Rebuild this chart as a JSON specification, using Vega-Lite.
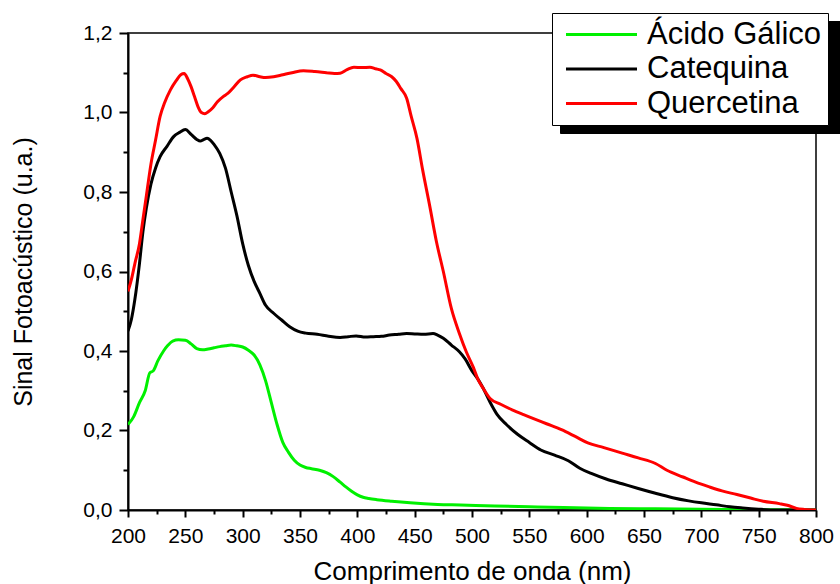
{
"$schema": "https://vega.github.io/schema/vega-lite/v6.json",
"width": 688, "height": 477,
"autosize": "none",
"padding": {"left": 128, "top": 33, "right": 24, "bottom": 74},
"background": "white",
"config": {"font": "Liberation Sans", "view": {"stroke": "#000", "strokeWidth": 1.5}},
"datasets": {"d": [
{"amostra":"Ácido Gálico","nm":200,"sinal":0.215},{"amostra":"Ácido Gálico","nm":205,"sinal":0.235},{"amostra":"Ácido Gálico","nm":210,"sinal":0.27},{"amostra":"Ácido Gálico","nm":215,"sinal":0.3},{"amostra":"Ácido Gálico","nm":219,"sinal":0.345},{"amostra":"Ácido Gálico","nm":222,"sinal":0.35},{"amostra":"Ácido Gálico","nm":226,"sinal":0.375},{"amostra":"Ácido Gálico","nm":231,"sinal":0.4},{"amostra":"Ácido Gálico","nm":235,"sinal":0.415},{"amostra":"Ácido Gálico","nm":239,"sinal":0.425},{"amostra":"Ácido Gálico","nm":244,"sinal":0.428},{"amostra":"Ácido Gálico","nm":250,"sinal":0.427},{"amostra":"Ácido Gálico","nm":255,"sinal":0.418},{"amostra":"Ácido Gálico","nm":260,"sinal":0.406},{"amostra":"Ácido Gálico","nm":265,"sinal":0.403},{"amostra":"Ácido Gálico","nm":270,"sinal":0.405},{"amostra":"Ácido Gálico","nm":275,"sinal":0.408},{"amostra":"Ácido Gálico","nm":280,"sinal":0.411},{"amostra":"Ácido Gálico","nm":285,"sinal":0.413},{"amostra":"Ácido Gálico","nm":290,"sinal":0.415},{"amostra":"Ácido Gálico","nm":295,"sinal":0.413},{"amostra":"Ácido Gálico","nm":300,"sinal":0.41},{"amostra":"Ácido Gálico","nm":305,"sinal":0.402},{"amostra":"Ácido Gálico","nm":310,"sinal":0.39},{"amostra":"Ácido Gálico","nm":315,"sinal":0.365},{"amostra":"Ácido Gálico","nm":320,"sinal":0.325},{"amostra":"Ácido Gálico","nm":325,"sinal":0.27},{"amostra":"Ácido Gálico","nm":330,"sinal":0.215},{"amostra":"Ácido Gálico","nm":335,"sinal":0.17},{"amostra":"Ácido Gálico","nm":340,"sinal":0.145},{"amostra":"Ácido Gálico","nm":345,"sinal":0.125},{"amostra":"Ácido Gálico","nm":350,"sinal":0.113},{"amostra":"Ácido Gálico","nm":355,"sinal":0.107},{"amostra":"Ácido Gálico","nm":360,"sinal":0.104},{"amostra":"Ácido Gálico","nm":367,"sinal":0.1},{"amostra":"Ácido Gálico","nm":373,"sinal":0.094},{"amostra":"Ácido Gálico","nm":379,"sinal":0.084},{"amostra":"Ácido Gálico","nm":385,"sinal":0.07},{"amostra":"Ácido Gálico","nm":390,"sinal":0.058},{"amostra":"Ácido Gálico","nm":395,"sinal":0.047},{"amostra":"Ácido Gálico","nm":400,"sinal":0.038},{"amostra":"Ácido Gálico","nm":405,"sinal":0.032},{"amostra":"Ácido Gálico","nm":410,"sinal":0.029},{"amostra":"Ácido Gálico","nm":417,"sinal":0.026},{"amostra":"Ácido Gálico","nm":430,"sinal":0.022},{"amostra":"Ácido Gálico","nm":446,"sinal":0.018},{"amostra":"Ácido Gálico","nm":470,"sinal":0.014},{"amostra":"Ácido Gálico","nm":490,"sinal":0.0126},{"amostra":"Ácido Gálico","nm":520,"sinal":0.01},{"amostra":"Ácido Gálico","nm":550,"sinal":0.008},{"amostra":"Ácido Gálico","nm":580,"sinal":0.006},{"amostra":"Ácido Gálico","nm":620,"sinal":0.004},{"amostra":"Ácido Gálico","nm":660,"sinal":0.003},{"amostra":"Ácido Gálico","nm":700,"sinal":0.002},{"amostra":"Ácido Gálico","nm":750,"sinal":0.001},{"amostra":"Ácido Gálico","nm":800,"sinal":0.0},
{"amostra":"Catequina","nm":200,"sinal":0.45},{"amostra":"Catequina","nm":203,"sinal":0.48},{"amostra":"Catequina","nm":206,"sinal":0.53},{"amostra":"Catequina","nm":210,"sinal":0.62},{"amostra":"Catequina","nm":213,"sinal":0.7},{"amostra":"Catequina","nm":216,"sinal":0.76},{"amostra":"Catequina","nm":220,"sinal":0.82},{"amostra":"Catequina","nm":224,"sinal":0.86},{"amostra":"Catequina","nm":228,"sinal":0.889},{"amostra":"Catequina","nm":234,"sinal":0.915},{"amostra":"Catequina","nm":240,"sinal":0.94},{"amostra":"Catequina","nm":245,"sinal":0.95},{"amostra":"Catequina","nm":250,"sinal":0.957},{"amostra":"Catequina","nm":255,"sinal":0.945},{"amostra":"Catequina","nm":260,"sinal":0.932},{"amostra":"Catequina","nm":263,"sinal":0.928},{"amostra":"Catequina","nm":266,"sinal":0.932},{"amostra":"Catequina","nm":269,"sinal":0.935},{"amostra":"Catequina","nm":272,"sinal":0.93},{"amostra":"Catequina","nm":275,"sinal":0.92},{"amostra":"Catequina","nm":280,"sinal":0.897},{"amostra":"Catequina","nm":285,"sinal":0.86},{"amostra":"Catequina","nm":290,"sinal":0.8},{"amostra":"Catequina","nm":295,"sinal":0.74},{"amostra":"Catequina","nm":300,"sinal":0.67},{"amostra":"Catequina","nm":305,"sinal":0.615},{"amostra":"Catequina","nm":310,"sinal":0.575},{"amostra":"Catequina","nm":315,"sinal":0.545},{"amostra":"Catequina","nm":320,"sinal":0.515},{"amostra":"Catequina","nm":327,"sinal":0.495},{"amostra":"Catequina","nm":334,"sinal":0.478},{"amostra":"Catequina","nm":341,"sinal":0.461},{"amostra":"Catequina","nm":348,"sinal":0.45},{"amostra":"Catequina","nm":355,"sinal":0.445},{"amostra":"Catequina","nm":365,"sinal":0.442},{"amostra":"Catequina","nm":375,"sinal":0.437},{"amostra":"Catequina","nm":385,"sinal":0.434},{"amostra":"Catequina","nm":392,"sinal":0.436},{"amostra":"Catequina","nm":399,"sinal":0.438},{"amostra":"Catequina","nm":407,"sinal":0.435},{"amostra":"Catequina","nm":414,"sinal":0.436},{"amostra":"Catequina","nm":421,"sinal":0.437},{"amostra":"Catequina","nm":428,"sinal":0.44},{"amostra":"Catequina","nm":436,"sinal":0.442},{"amostra":"Catequina","nm":443,"sinal":0.444},{"amostra":"Catequina","nm":450,"sinal":0.443},{"amostra":"Catequina","nm":458,"sinal":0.442},{"amostra":"Catequina","nm":466,"sinal":0.444},{"amostra":"Catequina","nm":470,"sinal":0.44},{"amostra":"Catequina","nm":475,"sinal":0.432},{"amostra":"Catequina","nm":482,"sinal":0.415},{"amostra":"Catequina","nm":489,"sinal":0.398},{"amostra":"Catequina","nm":494,"sinal":0.38},{"amostra":"Catequina","nm":500,"sinal":0.35},{"amostra":"Catequina","nm":505,"sinal":0.33},{"amostra":"Catequina","nm":510,"sinal":0.305},{"amostra":"Catequina","nm":516,"sinal":0.27},{"amostra":"Catequina","nm":522,"sinal":0.24},{"amostra":"Catequina","nm":530,"sinal":0.215},{"amostra":"Catequina","nm":540,"sinal":0.19},{"amostra":"Catequina","nm":550,"sinal":0.17},{"amostra":"Catequina","nm":560,"sinal":0.151},{"amostra":"Catequina","nm":572,"sinal":0.138},{"amostra":"Catequina","nm":584,"sinal":0.124},{"amostra":"Catequina","nm":594,"sinal":0.105},{"amostra":"Catequina","nm":604,"sinal":0.092},{"amostra":"Catequina","nm":617,"sinal":0.078},{"amostra":"Catequina","nm":631,"sinal":0.066},{"amostra":"Catequina","nm":645,"sinal":0.054},{"amostra":"Catequina","nm":660,"sinal":0.042},{"amostra":"Catequina","nm":675,"sinal":0.031},{"amostra":"Catequina","nm":689,"sinal":0.023},{"amostra":"Catequina","nm":700,"sinal":0.018},{"amostra":"Catequina","nm":713,"sinal":0.013},{"amostra":"Catequina","nm":725,"sinal":0.008},{"amostra":"Catequina","nm":736,"sinal":0.005},{"amostra":"Catequina","nm":750,"sinal":0.002},{"amostra":"Catequina","nm":766,"sinal":0.0},{"amostra":"Catequina","nm":780,"sinal":0.0},{"amostra":"Catequina","nm":800,"sinal":0.0},
{"amostra":"Quercetina","nm":200,"sinal":0.55},{"amostra":"Quercetina","nm":203,"sinal":0.58},{"amostra":"Quercetina","nm":206,"sinal":0.62},{"amostra":"Quercetina","nm":210,"sinal":0.67},{"amostra":"Quercetina","nm":213,"sinal":0.73},{"amostra":"Quercetina","nm":216,"sinal":0.79},{"amostra":"Quercetina","nm":220,"sinal":0.87},{"amostra":"Quercetina","nm":224,"sinal":0.93},{"amostra":"Quercetina","nm":228,"sinal":0.99},{"amostra":"Quercetina","nm":232,"sinal":1.025},{"amostra":"Quercetina","nm":237,"sinal":1.057},{"amostra":"Quercetina","nm":242,"sinal":1.08},{"amostra":"Quercetina","nm":246,"sinal":1.095},{"amostra":"Quercetina","nm":249,"sinal":1.098},{"amostra":"Quercetina","nm":252,"sinal":1.085},{"amostra":"Quercetina","nm":255,"sinal":1.065},{"amostra":"Quercetina","nm":258,"sinal":1.04},{"amostra":"Quercetina","nm":261,"sinal":1.015},{"amostra":"Quercetina","nm":264,"sinal":1.0},{"amostra":"Quercetina","nm":267,"sinal":0.997},{"amostra":"Quercetina","nm":270,"sinal":1.002},{"amostra":"Quercetina","nm":274,"sinal":1.012},{"amostra":"Quercetina","nm":278,"sinal":1.027},{"amostra":"Quercetina","nm":283,"sinal":1.04},{"amostra":"Quercetina","nm":287,"sinal":1.048},{"amostra":"Quercetina","nm":292,"sinal":1.063},{"amostra":"Quercetina","nm":298,"sinal":1.082},{"amostra":"Quercetina","nm":304,"sinal":1.09},{"amostra":"Quercetina","nm":309,"sinal":1.094},{"amostra":"Quercetina","nm":315,"sinal":1.09},{"amostra":"Quercetina","nm":320,"sinal":1.088},{"amostra":"Quercetina","nm":327,"sinal":1.09},{"amostra":"Quercetina","nm":335,"sinal":1.095},{"amostra":"Quercetina","nm":343,"sinal":1.1},{"amostra":"Quercetina","nm":353,"sinal":1.105},{"amostra":"Quercetina","nm":363,"sinal":1.103},{"amostra":"Quercetina","nm":373,"sinal":1.1},{"amostra":"Quercetina","nm":380,"sinal":1.098},{"amostra":"Quercetina","nm":385,"sinal":1.099},{"amostra":"Quercetina","nm":391,"sinal":1.108},{"amostra":"Quercetina","nm":397,"sinal":1.114},{"amostra":"Quercetina","nm":404,"sinal":1.113},{"amostra":"Quercetina","nm":411,"sinal":1.114},{"amostra":"Quercetina","nm":416,"sinal":1.11},{"amostra":"Quercetina","nm":420,"sinal":1.107},{"amostra":"Quercetina","nm":425,"sinal":1.098},{"amostra":"Quercetina","nm":430,"sinal":1.09},{"amostra":"Quercetina","nm":434,"sinal":1.078},{"amostra":"Quercetina","nm":438,"sinal":1.06},{"amostra":"Quercetina","nm":443,"sinal":1.036},{"amostra":"Quercetina","nm":447,"sinal":0.99},{"amostra":"Quercetina","nm":452,"sinal":0.935},{"amostra":"Quercetina","nm":457,"sinal":0.855},{"amostra":"Quercetina","nm":463,"sinal":0.767},{"amostra":"Quercetina","nm":469,"sinal":0.675},{"amostra":"Quercetina","nm":475,"sinal":0.6},{"amostra":"Quercetina","nm":482,"sinal":0.507},{"amostra":"Quercetina","nm":489,"sinal":0.444},{"amostra":"Quercetina","nm":495,"sinal":0.398},{"amostra":"Quercetina","nm":501,"sinal":0.36},{"amostra":"Quercetina","nm":505,"sinal":0.33},{"amostra":"Quercetina","nm":510,"sinal":0.305},{"amostra":"Quercetina","nm":516,"sinal":0.28},{"amostra":"Quercetina","nm":525,"sinal":0.266},{"amostra":"Quercetina","nm":535,"sinal":0.252},{"amostra":"Quercetina","nm":545,"sinal":0.24},{"amostra":"Quercetina","nm":552,"sinal":0.232},{"amostra":"Quercetina","nm":565,"sinal":0.217},{"amostra":"Quercetina","nm":578,"sinal":0.202},{"amostra":"Quercetina","nm":590,"sinal":0.185},{"amostra":"Quercetina","nm":601,"sinal":0.169},{"amostra":"Quercetina","nm":615,"sinal":0.157},{"amostra":"Quercetina","nm":631,"sinal":0.143},{"amostra":"Quercetina","nm":645,"sinal":0.131},{"amostra":"Quercetina","nm":660,"sinal":0.117},{"amostra":"Quercetina","nm":670,"sinal":0.1},{"amostra":"Quercetina","nm":684,"sinal":0.083},{"amostra":"Quercetina","nm":695,"sinal":0.07},{"amostra":"Quercetina","nm":707,"sinal":0.058},{"amostra":"Quercetina","nm":718,"sinal":0.048},{"amostra":"Quercetina","nm":731,"sinal":0.039},{"amostra":"Quercetina","nm":743,"sinal":0.03},{"amostra":"Quercetina","nm":754,"sinal":0.022},{"amostra":"Quercetina","nm":768,"sinal":0.016},{"amostra":"Quercetina","nm":775,"sinal":0.012},{"amostra":"Quercetina","nm":783,"sinal":0.004},{"amostra":"Quercetina","nm":790,"sinal":0.0015},{"amostra":"Quercetina","nm":800,"sinal":0.0}
]},
"data": {"name": "d"},
"mark": {"type": "line", "strokeWidth": 3, "interpolate": "monotone", "clip": true},
"encoding": {
  "x": {"field": "nm", "type": "quantitative",
    "scale": {"domain": [200, 800], "nice": false, "zero": false},
    "axis": {"title": "Comprimento de onda (nm)",
      "values": [200,225,250,275,300,325,350,375,400,425,450,475,500,525,550,575,600,625,650,675,700,725,750,775,800],
      "labelExpr": "datum.value % 50 == 0 ? datum.label : ''",
      "tickSize": {"condition": {"test": "datum.value % 50 == 0", "value": 7}, "value": 4},
      "grid": false, "domainColor": "#000", "domainWidth": 2, "tickColor": "#000", "tickWidth": 2,
      "labelFontSize": 21, "labelColor": "#000", "labelPadding": 8, "labelFlush": false, "labelOverlap": false,
      "titleFontSize": 26, "titleFontWeight": "normal", "titleColor": "#000", "titlePadding": 12}},
  "y": {"field": "sinal", "type": "quantitative",
    "scale": {"domain": [0, 1.2], "nice": false},
    "axis": {"title": "Sinal Fotoacústico (u.a.)",
      "values": [0,0.1,0.2,0.3,0.4,0.5,0.6,0.7,0.8,0.9,1.0,1.1,1.2],
      "labelExpr": "round(datum.value*10) % 2 == 0 ? replace(format(datum.value, '.1f'), '.', ',') : ''",
      "tickSize": {"condition": {"test": "round(datum.value*10) % 2 == 0", "value": 9}, "value": 5},
      "grid": false, "domainColor": "#000", "domainWidth": 2, "tickColor": "#000", "tickWidth": 2,
      "labelFontSize": 21, "labelColor": "#000", "labelPadding": 7, "labelFlush": false, "labelOverlap": false,
      "titleFontSize": 25, "titleFontWeight": "normal", "titleColor": "#000", "titlePadding": 46}},
  "color": {"field": "amostra", "type": "nominal",
    "scale": {"domain": ["Ácido Gálico", "Catequina", "Quercetina"], "range": ["#00f000", "#000000", "#ff0000"]},
    "legend": {"orient": "none", "legendX": 424, "legendY": -20, "title": null, "zindex": 2,
      "labelFontSize": 31, "labelColor": "#000", "labelOffset": 58, "labelLimit": 400,
      "symbolType": "M-0.75,0H6.35", "symbolSize": 400, "symbolStrokeWidth": 3,
      "strokeColor": "#000", "fillColor": "#fff", "padding": 6, "rowPadding": 2.5}},
  "opacity": {"field": "amostra", "type": "nominal",
    "scale": {"range": [1, 1]},
    "legend": {"orient": "none", "legendX": 432, "legendY": -12, "title": null, "zindex": 1,
      "labelFontSize": 31, "labelExpr": "''", "labelOffset": 58, "labelLimit": 400,
      "symbolType": "M-0.75,0H24.8", "symbolSize": 400, "symbolStrokeWidth": 3,
      "symbolStrokeColor": "#000", "symbolFillColor": "#000",
      "strokeColor": "#000", "fillColor": "#000", "padding": 6, "rowPadding": 2.5}}
}
}
